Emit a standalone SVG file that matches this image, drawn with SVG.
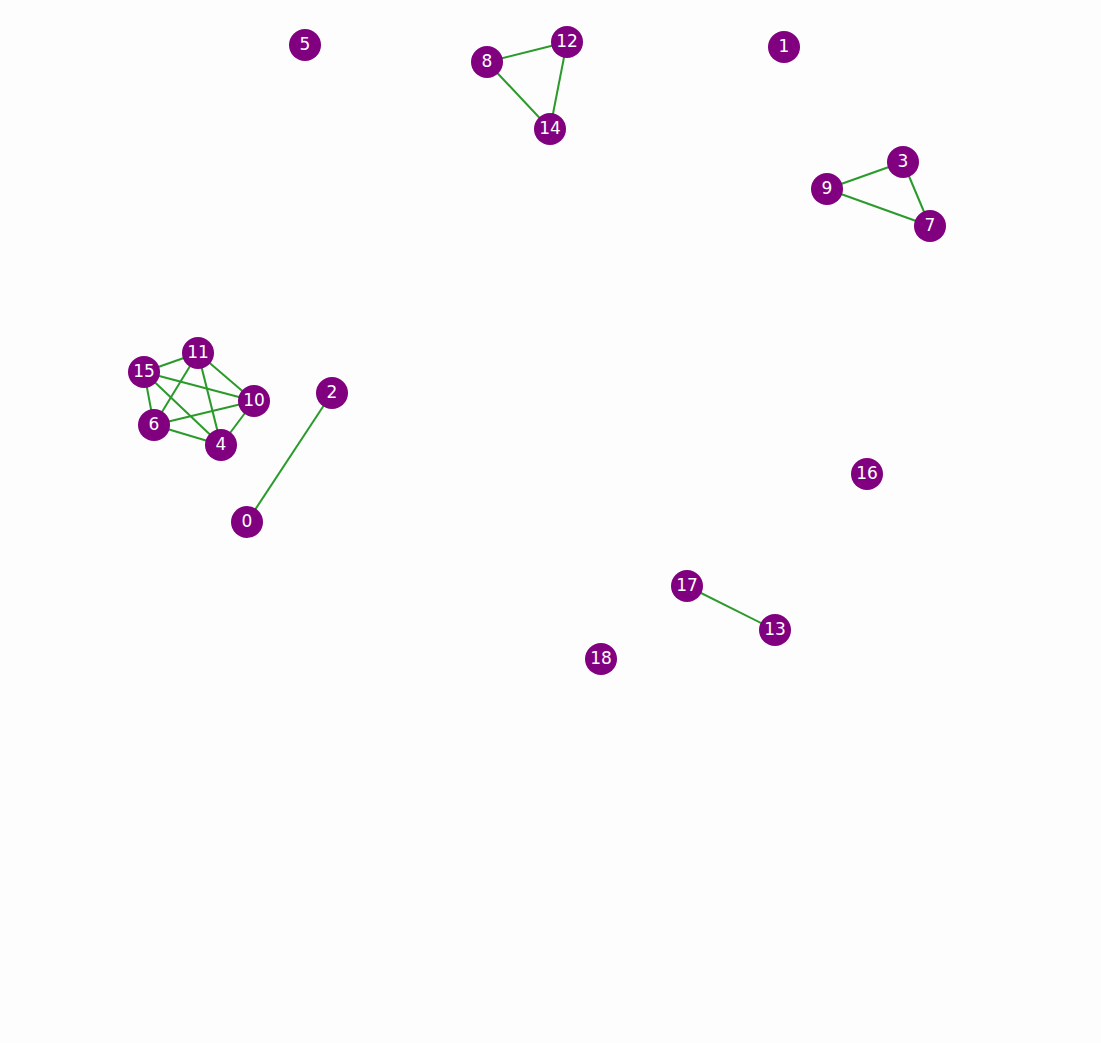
<svg xmlns="http://www.w3.org/2000/svg" width="1101" height="1043" viewBox="0 0 1101 1043">
<style>
.e{stroke:#2a9a2a;stroke-width:2;fill:none}
.n circle{fill:#800080}
.n text{fill:#ffffff;font-family:"DejaVu Sans",sans-serif;font-size:17px;text-anchor:middle;dominant-baseline:central}
</style>
<rect width="1101" height="1043" fill="#fcfdfc"/>
<g id="edges">
<line class="e" x1="247" y1="522" x2="332" y2="393"/>
<line class="e" x1="487" y1="62" x2="567" y2="42"/>
<line class="e" x1="487" y1="62" x2="550" y2="129"/>
<line class="e" x1="567" y1="42" x2="550" y2="129"/>
<line class="e" x1="827" y1="189" x2="903" y2="162"/>
<line class="e" x1="903" y1="162" x2="930" y2="226"/>
<line class="e" x1="827" y1="189" x2="930" y2="226"/>
<line class="e" x1="687" y1="586" x2="775" y2="630"/>
<line class="e" x1="144" y1="372" x2="198" y2="353"/>
<line class="e" x1="144" y1="372" x2="254" y2="401"/>
<line class="e" x1="144" y1="372" x2="154" y2="425"/>
<line class="e" x1="144" y1="372" x2="221" y2="445"/>
<line class="e" x1="198" y1="353" x2="154" y2="425"/>
<line class="e" x1="198" y1="353" x2="254" y2="401"/>
<line class="e" x1="198" y1="353" x2="221" y2="445"/>
<line class="e" x1="154" y1="425" x2="254" y2="401"/>
<line class="e" x1="154" y1="425" x2="221" y2="445"/>
<line class="e" x1="221" y1="445" x2="254" y2="401"/>
</g>
<g id="n0" class="n"><circle cx="247" cy="522" r="16"/><text x="247" y="521">0</text></g>
<g id="n1" class="n"><circle cx="784" cy="47" r="16"/><text x="784" y="46">1</text></g>
<g id="n2" class="n"><circle cx="332" cy="393" r="16"/><text x="332" y="392">2</text></g>
<g id="n3" class="n"><circle cx="903" cy="162" r="16"/><text x="903" y="161">3</text></g>
<g id="n4" class="n"><circle cx="221" cy="445" r="16"/><text x="221" y="444">4</text></g>
<g id="n5" class="n"><circle cx="305" cy="45" r="16"/><text x="305" y="44">5</text></g>
<g id="n6" class="n"><circle cx="154" cy="425" r="16"/><text x="154" y="424">6</text></g>
<g id="n7" class="n"><circle cx="930" cy="226" r="16"/><text x="930" y="225">7</text></g>
<g id="n8" class="n"><circle cx="487" cy="62" r="16"/><text x="487" y="61">8</text></g>
<g id="n9" class="n"><circle cx="827" cy="189" r="16"/><text x="827" y="188">9</text></g>
<g id="n10" class="n"><circle cx="254" cy="401" r="16"/><text x="254" y="400">10</text></g>
<g id="n11" class="n"><circle cx="198" cy="353" r="16"/><text x="198" y="352">11</text></g>
<g id="n12" class="n"><circle cx="567" cy="42" r="16"/><text x="567" y="41">12</text></g>
<g id="n13" class="n"><circle cx="775" cy="630" r="16"/><text x="775" y="629">13</text></g>
<g id="n14" class="n"><circle cx="550" cy="129" r="16"/><text x="550" y="128">14</text></g>
<g id="n15" class="n"><circle cx="144" cy="372" r="16"/><text x="144" y="371">15</text></g>
<g id="n16" class="n"><circle cx="867" cy="474" r="16"/><text x="867" y="473">16</text></g>
<g id="n17" class="n"><circle cx="687" cy="586" r="16"/><text x="687" y="585">17</text></g>
<g id="n18" class="n"><circle cx="601" cy="659" r="16"/><text x="601" y="658">18</text></g>
</svg>
